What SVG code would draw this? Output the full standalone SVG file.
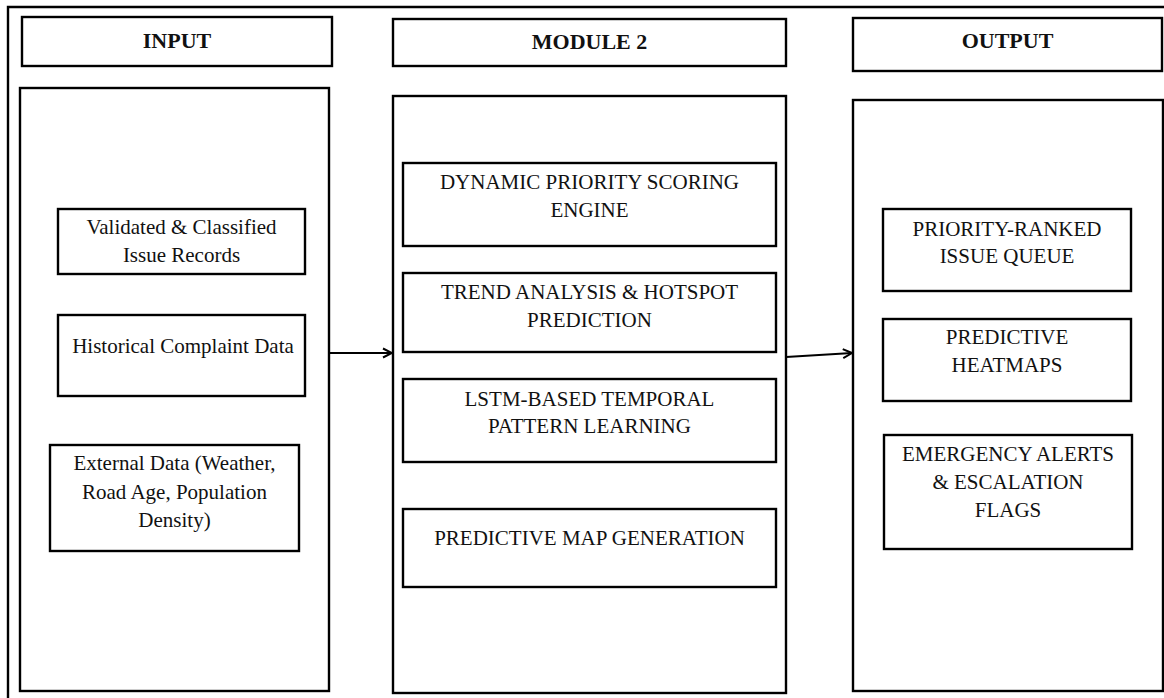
<svg xmlns="http://www.w3.org/2000/svg" width="1164" height="698" viewBox="0 0 1164 698">
  <style>
    .box { fill: #fff; stroke: #000; stroke-width: 2.4; }
    .frame { fill: none; stroke: #000; stroke-width: 2.4; }
    .hdr { font-size: 22px; font-weight: bold; fill: #111; text-anchor: middle; }
    .lbl { font-size: 21px; fill: #111; text-anchor: middle; }
    .conn { fill: none; stroke: #000; stroke-width: 2; }
  </style>
  <defs>
    <marker id="chevron" viewBox="0 0 12 12" refX="11" refY="6" markerWidth="12" markerHeight="12" markerUnits="userSpaceOnUse" orient="auto">
      <path d="M2,1.5 L11,6 L2,10.5" fill="none" stroke="#000" stroke-width="2"/>
    </marker>
  </defs>
  <rect width="1164" height="698" fill="#fff"/>

  <!-- outer frame -->
  <path class="frame" d="M8,698 V7 H1164"/>

  <g font-family="Liberation Serif, Times New Roman, DejaVu Serif, serif">
  <!-- column headers -->
  <g id="hdr-input">
    <rect class="box" x="22" y="17" width="310" height="49"/>
    <text class="hdr" x="177" y="48">INPUT</text>
  </g>
  <g id="hdr-module">
    <rect class="box" x="393" y="19" width="393" height="47"/>
    <text class="hdr" x="589.5" y="49">MODULE 2</text>
  </g>
  <g id="hdr-output">
    <rect class="box" x="853" y="18" width="309" height="53"/>
    <text class="hdr" x="1007.5" y="48">OUTPUT</text>
  </g>

  <!-- column panels -->
  <g id="panel-input">
    <rect class="box" x="20" y="88" width="309" height="603"/>
  </g>
  <g id="panel-module">
    <rect class="box" x="393" y="96" width="393" height="597"/>
  </g>
  <g id="panel-output">
    <rect class="box" x="853" y="100" width="310" height="591"/>
  </g>

  <!-- inputs -->
  <g id="in-validated">
    <rect class="box" x="58" y="209" width="247" height="65"/>
    <text class="lbl" x="181.5" y="234">Validated &amp; Classified</text>
    <text class="lbl" x="181.5" y="262">Issue Records</text>
  </g>
  <g id="in-historical">
    <rect class="box" x="58" y="315" width="247" height="81"/>
    <text class="lbl" x="183" y="353">Historical Complaint Data</text>
  </g>
  <g id="in-external">
    <rect class="box" x="50" y="445" width="249" height="106"/>
    <text class="lbl" x="174.5" y="470">External Data (Weather,</text>
    <text class="lbl" x="174.5" y="499">Road Age, Population</text>
    <text class="lbl" x="174.5" y="527">Density)</text>
  </g>

  <!-- module steps -->
  <g id="step-scoring">
    <rect class="box" x="403" y="163" width="373" height="83"/>
    <text class="lbl" x="589.5" y="189">DYNAMIC PRIORITY SCORING</text>
    <text class="lbl" x="589.5" y="217">ENGINE</text>
  </g>
  <g id="step-trend">
    <rect class="box" x="403" y="273" width="373" height="79"/>
    <text class="lbl" x="589.5" y="299">TREND ANALYSIS &amp; HOTSPOT</text>
    <text class="lbl" x="589.5" y="327">PREDICTION</text>
  </g>
  <g id="step-lstm">
    <rect class="box" x="403" y="379" width="373" height="83"/>
    <text class="lbl" x="589.5" y="406">LSTM-BASED TEMPORAL</text>
    <text class="lbl" x="589.5" y="433">PATTERN LEARNING</text>
  </g>
  <g id="step-map">
    <rect class="box" x="403" y="509" width="373" height="78"/>
    <text class="lbl" x="589.5" y="545">PREDICTIVE MAP GENERATION</text>
  </g>

  <!-- outputs -->
  <g id="out-queue">
    <rect class="box" x="883" y="209" width="248" height="82"/>
    <text class="lbl" x="1007" y="236">PRIORITY-RANKED</text>
    <text class="lbl" x="1007" y="263">ISSUE QUEUE</text>
  </g>
  <g id="out-heatmaps">
    <rect class="box" x="883" y="319" width="248" height="82"/>
    <text class="lbl" x="1007" y="344">PREDICTIVE</text>
    <text class="lbl" x="1007" y="372">HEATMAPS</text>
  </g>
  <g id="out-alerts">
    <rect class="box" x="884" y="435" width="248" height="114"/>
    <text class="lbl" x="1008" y="461">EMERGENCY ALERTS</text>
    <text class="lbl" x="1008" y="489">&amp; ESCALATION</text>
    <text class="lbl" x="1008" y="517">FLAGS</text>
  </g>
  </g>

  <!-- connectors -->
  <g id="connectors">
    <path class="conn" d="M329,353 L392,353" marker-end="url(#chevron)"/>
    <path class="conn" d="M786,357 L852,353" marker-end="url(#chevron)"/>
  </g>
</svg>
